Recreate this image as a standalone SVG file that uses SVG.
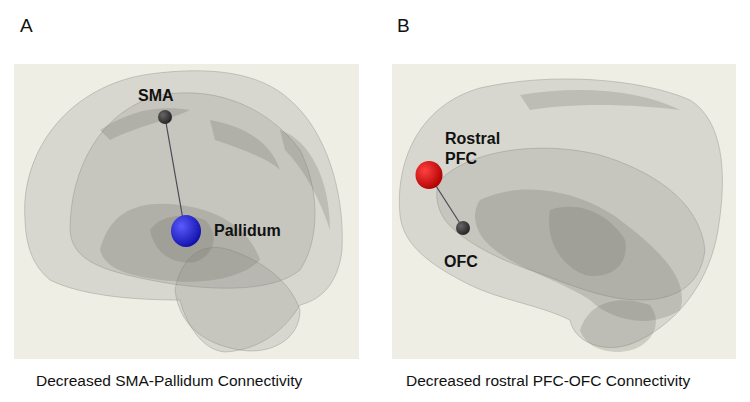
<svg xmlns="http://www.w3.org/2000/svg" width="750" height="402" viewBox="0 0 750 402">
<defs>
<radialGradient id="gb" cx="0.35" cy="0.35" r="0.7"><stop offset="0" stop-color="#5a5aff"/><stop offset="1" stop-color="#1010a8"/></radialGradient>
<radialGradient id="gr" cx="0.35" cy="0.35" r="0.7"><stop offset="0" stop-color="#ff4040"/><stop offset="1" stop-color="#b00000"/></radialGradient>
<radialGradient id="gk" cx="0.35" cy="0.35" r="0.7"><stop offset="0" stop-color="#666"/><stop offset="1" stop-color="#222"/></radialGradient>
</defs>
<style>
.bg{fill:#efeee4}
.b{fill:#8a8a84;fill-opacity:0.22;stroke:#8a8a84;stroke-opacity:0.4;stroke-width:1}
.d{fill:#6e6e68;fill-opacity:0.25;stroke:none}
.lab{font-family:"Liberation Sans",Arial,sans-serif;font-weight:bold;font-size:16px;fill:#111}
.cap{font-family:"Liberation Sans",Arial,sans-serif;font-size:15.5px;fill:#111}
.hd{font-family:"Liberation Sans",Arial,sans-serif;font-size:19px;fill:#111}
.edge{stroke:#4a4a5a;stroke-width:1.2;fill:none}
</style>
<rect width="750" height="402" fill="#fff"/>
<text class="hd" x="20" y="32">A</text>
<text class="hd" x="397" y="32">B</text>
<rect class="bg" x="14" y="64" width="345" height="295"/>
<rect class="bg" x="392" y="64" width="344" height="295"/>
<g id="brainA">
<path class="b" d="M25,220 C20,150 70,85 150,74 C210,66 260,72 290,100 C325,130 345,190 342,250 C338,285 320,300 300,305 C285,330 260,350 225,352 C200,350 185,320 180,300 C130,300 80,295 50,280 C32,265 26,245 25,220Z"/>
<path class="b" d="M70,230 C70,170 100,110 160,95 C220,85 270,110 300,150 C320,190 320,240 300,270 C270,295 200,290 150,280 C100,270 72,260 70,230Z"/>
<path class="b" d="M175,290 C180,260 200,240 230,250 C260,260 290,280 300,310 C300,340 270,355 240,350 C210,345 180,330 175,290Z"/>
<path class="d" d="M100,250 C110,210 140,200 180,205 C220,210 250,230 260,260 C240,280 200,285 160,280 C125,275 105,268 100,250Z"/>
<path class="d" d="M150,230 C160,215 185,212 205,220 C220,235 215,255 195,262 C175,265 155,255 150,230Z"/>
<path class="d" d="M210,120 C240,125 270,140 280,170 C270,160 245,150 215,140Z"/>
<path class="d" d="M100,130 C130,110 160,105 190,110 C170,120 140,125 110,140Z"/>
<path class="d" d="M280,130 C310,140 330,180 330,230 C320,200 305,170 285,150Z"/>
</g>
<g id="brainB">
<path class="b" d="M400,215 C395,160 420,105 480,88 C550,72 640,78 690,100 C722,120 728,170 718,230 C710,280 680,320 640,340 C610,356 575,345 570,320 C540,305 500,300 470,285 C430,265 403,245 400,215Z"/>
<path class="b" d="M440,180 C470,150 540,140 600,155 C650,170 700,200 705,250 C700,290 670,300 640,300 C600,300 560,280 530,270 C500,260 460,240 445,220 C435,205 435,190 440,180Z"/>
<path class="d" d="M480,200 C520,180 580,190 620,220 C660,250 690,280 680,310 C650,330 610,320 590,300 C560,280 520,270 495,250 C475,235 470,215 480,200Z"/>
<path class="d" d="M550,210 C580,200 610,215 625,240 C630,265 610,280 585,275 C560,265 545,240 550,210Z"/>
<path class="d" d="M580,330 C590,300 620,295 650,305 C665,325 650,350 620,352 C600,352 585,345 580,330Z"/>
<path class="d" d="M520,95 C580,85 640,90 680,110 C640,105 580,102 530,110Z"/>
</g>
<g id="connectors">
<line class="edge" x1="165" y1="117" x2="185" y2="231"/>
<line class="edge" x1="429" y1="175" x2="463" y2="228"/>
</g>
<g id="SMA"><circle cx="165" cy="117" r="7" fill="url(#gk)"/><text class="lab" x="138" y="101">SMA</text></g>
<g id="Pallidum"><ellipse cx="186" cy="231" rx="15" ry="16" fill="url(#gb)"/><text class="lab" x="214" y="236">Pallidum</text></g>
<g id="RostralPFC"><ellipse cx="429" cy="175" rx="13.5" ry="14" fill="url(#gr)"/><text class="lab" x="445" y="144">Rostral</text><text class="lab" x="445" y="164">PFC</text></g>
<g id="OFC"><circle cx="463" cy="228" r="7" fill="url(#gk)"/><text class="lab" x="444" y="267">OFC</text></g>
<text class="cap" x="36" y="386">Decreased SMA-Pallidum Connectivity</text>
<text class="cap" x="406" y="386">Decreased rostral PFC-OFC Connectivity</text>
</svg>
